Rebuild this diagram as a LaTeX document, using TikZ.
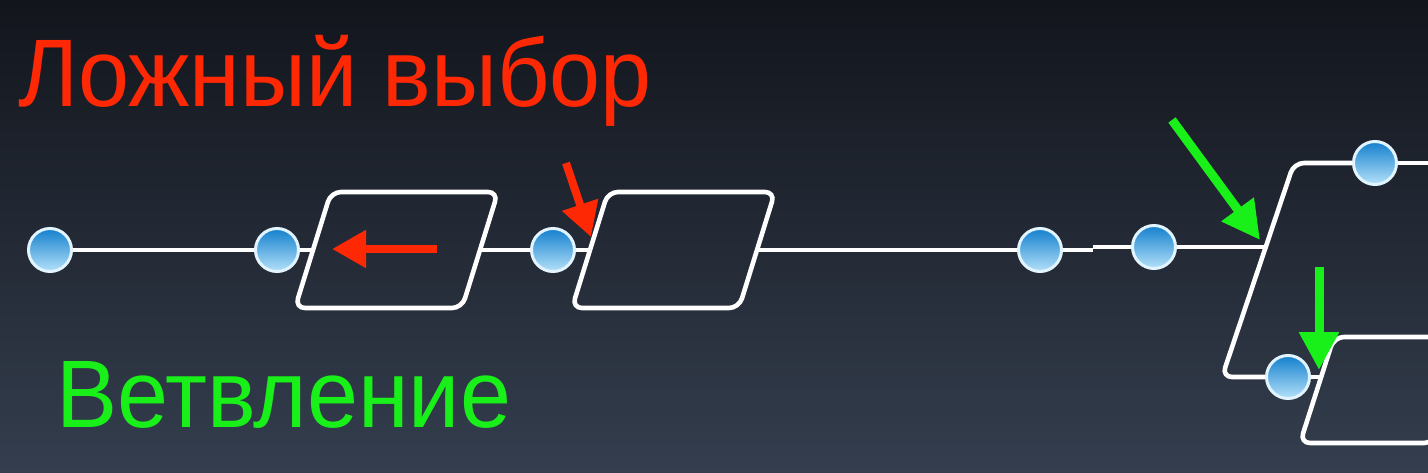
\documentclass[tikz,border=0pt]{standalone}
\usepackage{fontspec}
\setmainfont{Liberation Sans}
\usetikzlibrary{arrows.meta}
\definecolor{bgtop}{RGB}{18,21,28}
\definecolor{bgbot}{RGB}{52,62,78}
\definecolor{dotdark}{RGB}{20,128,205}
\definecolor{dotlight}{RGB}{180,225,250}
\definecolor{dotrim}{RGB}{225,244,255}
\definecolor{redc}{RGB}{255,40,5}
\definecolor{greenc}{RGB}{25,240,25}
\tikzset{
  wire/.style={draw=white, line width=4.6pt},
  parabox/.style={draw=white, line width=4.6pt, rounded corners=10pt},
  dot/.style={circle, inner sep=0pt, minimum size=43pt, draw=dotrim, line width=3pt,
    top color=dotdark, bottom color=dotlight},
  redarrow/.style={draw=redc, line width=8pt, -{Triangle[length=34pt,width=36pt]}},
  greenarrow/.style={draw=greenc, line width=9pt, -{Triangle[length=38pt,width=38pt]}},
  title/.style={anchor=base west, inner sep=0pt, font=\fontsize{96}{100}\selectfont}
}
\begin{document}
\begin{tikzpicture}[x=1pt,y=-1pt]
\useasboundingbox (0,0) rectangle (1428,473);
\fill[top color=bgtop, bottom color=bgbot] (0,0) rectangle (1428,473);

% titles
\node[title, text=redc] (t1) at (18,107) {\scalebox{0.955}[1]{Ложный выбор}};
\node[title, text=greenc] (t2) at (56,427) {\scalebox{0.955}[1]{Ветвление}};

% circles
\node[dot] (c1) at (50,250) {};
\node[dot] (c2) at (277,250) {};
\node[dot] (c3) at (553,250) {};
\node[dot] (c4) at (1040,250) {};
\node[dot] (c5) at (1154,247) {};
\node[dot] (c6) at (1375,163) {};
\node[dot] (c7) at (1288,377) {};

% attachment coordinates
\coordinate (p1l) at (313,250);
\coordinate (p1r) at (480,250);
\coordinate (p2l) at (590,250);
\coordinate (p2r) at (757,250);
\coordinate (s1) at (1093,250);
\coordinate (s2) at (1093,247);
\coordinate (j) at (1265,247);
\coordinate (e6) at (1430,163);
\coordinate (p3l) at (1322,377);

% parallelograms
\draw[parabox] (295,308) -- (462,308) -- (498,192) -- (331,192) -- cycle;
\draw[parabox] (572,308) -- (739,308) -- (775,192) -- (608,192) -- cycle;
\draw[parabox] (1300,443) -- (1434,443) -- (1466,337) -- (1334,337) -- cycle;

% connectors
\draw[wire] (c1) -- (c2);
\draw[wire] (c2) -- (p1l);
\draw[wire] (p1r) -- (c3);
\draw[wire] (c3) -- (p2l);
\draw[wire] (p2r) -- (c4);
\draw[wire] (c4) -- (s1);
\draw[wire] (s2) -- (c5);
\draw[wire] (c5) -- (j);
\draw[parabox] (c6.west) -- (1294,163) -- (1222,377) -- (c7.west);
\draw[wire] (c6) -- (e6);
\draw[wire] (c7) -- (p3l);

% arrows
\coordinate (r1s) at (437,249);
\coordinate (r1e) at (332,249);
\coordinate (r2s) at (566,163);
\coordinate (r2e) at (591,237);
\coordinate (g1s) at (1172,120);
\coordinate (g1e) at (1260,240);
\coordinate (g2s) at (1319,267);
\coordinate (g2e) at (1319,370);
\draw[redarrow] (r1s) -- (r1e);
\draw[redarrow] (r2s) -- (r2e);
\draw[greenarrow] (g1s) -- (g1e);
\draw[greenarrow] (g2s) -- (g2e);
\end{tikzpicture}
\end{document}
